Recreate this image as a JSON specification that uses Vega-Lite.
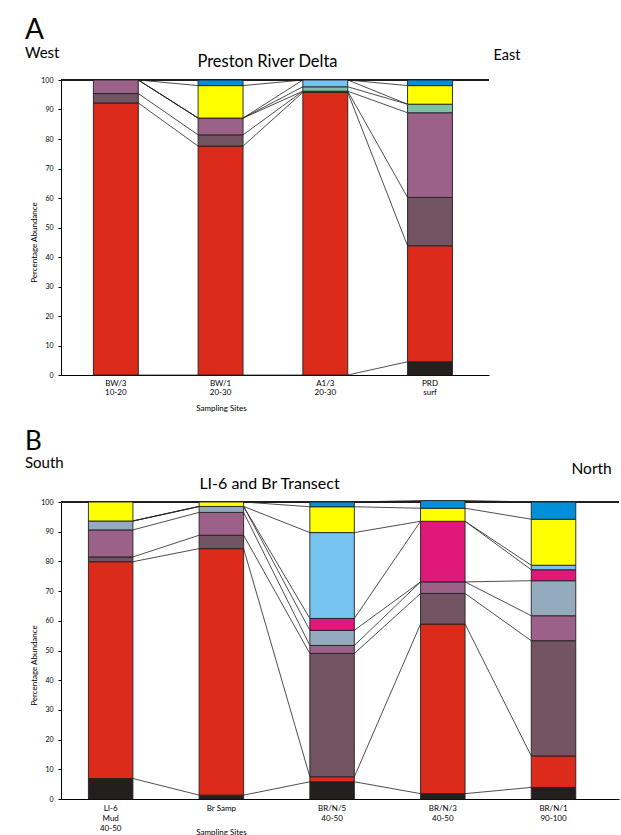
{
"$schema":"https://vega.github.io/schema/vega-lite/v6.json",
"datasets":{
"a":[
{"site":"BW/3|10-20","i":0,"taxon":"black","k":0,"value":0},
{"site":"BW/3|10-20","i":0,"taxon":"red","k":1,"value":92.2},
{"site":"BW/3|10-20","i":0,"taxon":"dark mauve","k":2,"value":3.2},
{"site":"BW/3|10-20","i":0,"taxon":"mauve","k":3,"value":4.6},
{"site":"BW/3|10-20","i":0,"taxon":"green","k":4,"value":0},
{"site":"BW/3|10-20","i":0,"taxon":"light blue","k":7,"value":0},
{"site":"BW/3|10-20","i":0,"taxon":"yellow","k":8,"value":0},
{"site":"BW/3|10-20","i":0,"taxon":"blue","k":9,"value":0},
{"site":"BW/1|20-30","i":1,"taxon":"black","k":0,"value":0},
{"site":"BW/1|20-30","i":1,"taxon":"red","k":1,"value":77.6},
{"site":"BW/1|20-30","i":1,"taxon":"dark mauve","k":2,"value":3.8},
{"site":"BW/1|20-30","i":1,"taxon":"mauve","k":3,"value":5.7},
{"site":"BW/1|20-30","i":1,"taxon":"green","k":4,"value":0},
{"site":"BW/1|20-30","i":1,"taxon":"light blue","k":7,"value":0},
{"site":"BW/1|20-30","i":1,"taxon":"yellow","k":8,"value":11.0},
{"site":"BW/1|20-30","i":1,"taxon":"blue","k":9,"value":1.9},
{"site":"A1/3|20-30","i":2,"taxon":"black","k":0,"value":0},
{"site":"A1/3|20-30","i":2,"taxon":"red","k":1,"value":95.8},
{"site":"A1/3|20-30","i":2,"taxon":"dark mauve","k":2,"value":0.4},
{"site":"A1/3|20-30","i":2,"taxon":"mauve","k":3,"value":0},
{"site":"A1/3|20-30","i":2,"taxon":"green","k":4,"value":1.5},
{"site":"A1/3|20-30","i":2,"taxon":"light blue","k":7,"value":2.3},
{"site":"A1/3|20-30","i":2,"taxon":"yellow","k":8,"value":0},
{"site":"A1/3|20-30","i":2,"taxon":"blue","k":9,"value":0},
{"site":"PRD|surf","i":3,"taxon":"black","k":0,"value":4.5},
{"site":"PRD|surf","i":3,"taxon":"red","k":1,"value":39.3},
{"site":"PRD|surf","i":3,"taxon":"dark mauve","k":2,"value":16.4},
{"site":"PRD|surf","i":3,"taxon":"mauve","k":3,"value":28.7},
{"site":"PRD|surf","i":3,"taxon":"green","k":4,"value":2.9},
{"site":"PRD|surf","i":3,"taxon":"light blue","k":7,"value":0},
{"site":"PRD|surf","i":3,"taxon":"yellow","k":8,"value":6.3},
{"site":"PRD|surf","i":3,"taxon":"blue","k":9,"value":1.9}
],
"b":[
{"site":"LI-6|Mud|40-50","i":0,"taxon":"black","k":0,"value":6.9},
{"site":"LI-6|Mud|40-50","i":0,"taxon":"red","k":1,"value":73.0},
{"site":"LI-6|Mud|40-50","i":0,"taxon":"dark mauve","k":2,"value":1.6},
{"site":"LI-6|Mud|40-50","i":0,"taxon":"mauve","k":3,"value":9.1},
{"site":"LI-6|Mud|40-50","i":0,"taxon":"grey blue","k":5,"value":3.0},
{"site":"LI-6|Mud|40-50","i":0,"taxon":"magenta","k":6,"value":0},
{"site":"LI-6|Mud|40-50","i":0,"taxon":"light blue","k":7,"value":0},
{"site":"LI-6|Mud|40-50","i":0,"taxon":"yellow","k":8,"value":6.4},
{"site":"LI-6|Mud|40-50","i":0,"taxon":"blue","k":9,"value":0},
{"site":"Br Samp","i":1,"taxon":"black","k":0,"value":1.3},
{"site":"Br Samp","i":1,"taxon":"red","k":1,"value":83.0},
{"site":"Br Samp","i":1,"taxon":"dark mauve","k":2,"value":4.5},
{"site":"Br Samp","i":1,"taxon":"mauve","k":3,"value":7.7},
{"site":"Br Samp","i":1,"taxon":"grey blue","k":5,"value":2.0},
{"site":"Br Samp","i":1,"taxon":"magenta","k":6,"value":0},
{"site":"Br Samp","i":1,"taxon":"light blue","k":7,"value":0},
{"site":"Br Samp","i":1,"taxon":"yellow","k":8,"value":1.5},
{"site":"Br Samp","i":1,"taxon":"blue","k":9,"value":0},
{"site":"BR/N/5|40-50","i":2,"taxon":"black","k":0,"value":5.8},
{"site":"BR/N/5|40-50","i":2,"taxon":"red","k":1,"value":1.7},
{"site":"BR/N/5|40-50","i":2,"taxon":"dark mauve","k":2,"value":41.5},
{"site":"BR/N/5|40-50","i":2,"taxon":"mauve","k":3,"value":2.7},
{"site":"BR/N/5|40-50","i":2,"taxon":"grey blue","k":5,"value":5.1},
{"site":"BR/N/5|40-50","i":2,"taxon":"magenta","k":6,"value":4.0},
{"site":"BR/N/5|40-50","i":2,"taxon":"light blue","k":7,"value":28.9},
{"site":"BR/N/5|40-50","i":2,"taxon":"yellow","k":8,"value":8.7},
{"site":"BR/N/5|40-50","i":2,"taxon":"blue","k":9,"value":1.6},
{"site":"BR/N/3|40-50","i":3,"taxon":"black","k":0,"value":1.8},
{"site":"BR/N/3|40-50","i":3,"taxon":"red","k":1,"value":57.1},
{"site":"BR/N/3|40-50","i":3,"taxon":"dark mauve","k":2,"value":10.3},
{"site":"BR/N/3|40-50","i":3,"taxon":"mauve","k":3,"value":3.9},
{"site":"BR/N/3|40-50","i":3,"taxon":"grey blue","k":5,"value":0},
{"site":"BR/N/3|40-50","i":3,"taxon":"magenta","k":6,"value":20.4},
{"site":"BR/N/3|40-50","i":3,"taxon":"light blue","k":7,"value":0},
{"site":"BR/N/3|40-50","i":3,"taxon":"yellow","k":8,"value":4.4},
{"site":"BR/N/3|40-50","i":3,"taxon":"blue","k":9,"value":2.6},
{"site":"BR/N/1|90-100","i":4,"taxon":"black","k":0,"value":3.9},
{"site":"BR/N/1|90-100","i":4,"taxon":"red","k":1,"value":10.6},
{"site":"BR/N/1|90-100","i":4,"taxon":"dark mauve","k":2,"value":38.8},
{"site":"BR/N/1|90-100","i":4,"taxon":"mauve","k":3,"value":8.4},
{"site":"BR/N/1|90-100","i":4,"taxon":"grey blue","k":5,"value":11.8},
{"site":"BR/N/1|90-100","i":4,"taxon":"magenta","k":6,"value":3.7},
{"site":"BR/N/1|90-100","i":4,"taxon":"light blue","k":7,"value":1.5},
{"site":"BR/N/1|90-100","i":4,"taxon":"yellow","k":8,"value":15.5},
{"site":"BR/N/1|90-100","i":4,"taxon":"blue","k":9,"value":5.8}
]
},
"padding":{"left":25,"top":17,"right":0,"bottom":0},
"spacing":16,
"vconcat":[
{
"width":428,"height":295,
"title":{"text":"A","subtitle":"West","anchor":"start","frame":"group","dx":-36,"fontSize":28,"subtitleFontSize":15,"subtitlePadding":1,"offset":-14},
"layer":[
{"data":{"name":"a"},"mark":{"type":"rule","color":"#231f20","strokeWidth":1},
"encoding":{"y":{"datum":100,"type":"quantitative","scale":{"domain":[0,100],"nice":false},"axis":null}}},
{"data":{"name":"a"},
"transform":[
{"stack":"value","groupby":["site"],"sort":[{"field":"k","order":"ascending"}],"as":["y0","y1"]},
{"window":[{"op":"lead","field":"y1","as":"ny1"},{"op":"lead","field":"site","as":"nsite"}],"groupby":["taxon"],"sort":[{"field":"i","order":"ascending"}]},
{"filter":"isValid(datum.nsite)"}
],
"mark":{"type":"rule","color":"#231f20","strokeWidth":0.8},
"encoding":{
"x":{"field":"site","type":"nominal","bandPosition":1,"scale":{"type":"band","domain":["BW/3|10-20","BW/1|20-30","A1/3|20-30","PRD|surf"],"paddingInner":0.571,"paddingOuter":0.329,"align":0.47},"axis":null},
"x2":{"field":"nsite","bandPosition":0},
"y":{"field":"y1","type":"quantitative","scale":{"domain":[0,100],"nice":false},"axis":null},
"y2":{"field":"ny1"}}},
{"data":{"name":"a"},"transform":[{"filter":"datum.value > 0"}],
"mark":{"type":"bar","stroke":"#231f20","strokeWidth":0.9},
"encoding":{
"x":{"field":"site","type":"nominal","scale":{"type":"band","domain":["BW/3|10-20","BW/1|20-30","A1/3|20-30","PRD|surf"],"paddingInner":0.571,"paddingOuter":0.329,"align":0.47},
"axis":{"orient":"bottom","labelExpr":"split(datum.label, '|')","labelAngle":0,"labelFontSize":8,"labelLineHeight":9,"labelPadding":4,"ticks":false,"domainWidth":1,"title":"Sampling Sites","titleFontSize":8,"titleX":160,"titleY":33,"titleAlign":"center","titleBaseline":"middle","titleAnchor":null}},
"y":{"field":"value","type":"quantitative","stack":"zero","scale":{"domain":[0,100],"nice":false},
"axis":{"orient":"left","values":[0,10,20,30,40,50,60,70,80,90,100],"labelFontSize":7,"tickSize":3,"labelPadding":5,"domainWidth":1,"title":"Percentage Abundance","titleFontSize":8,"titleX":-27,"titleY":162,"titleAlign":"center","titleBaseline":"middle","titleAnchor":null}},
"color":{"field":"taxon","type":"nominal","scale":{"domain":["black","red","dark mauve","mauve","green","grey blue","magenta","light blue","yellow","blue"],"range":["#231f1e","#dc2b1a","#725462","#9c6189","#7ac3a3","#93abbd","#e0187a","#76c3f0","#ffff00","#0090da"]},"legend":null},
"order":{"field":"k","type":"quantitative"}}},
{"data":{"name":"a"},"mark":{"type":"point","opacity":0},
"encoding":{
"x":{"field":"site","type":"nominal","scale":{"type":"band","domain":["BW/3|10-20","BW/1|20-30","A1/3|20-30","PRD|surf"],"paddingInner":0.571,"paddingOuter":0.329,"align":0.47},
"axis":{"orient":"top","labels":false,"ticks":false,"domain":false,"title":"Preston River Delta","titleFontSize":16.5,"titleX":206,"titleY":-19,"titleAlign":"center","titleBaseline":"middle","titleAnchor":null}},
"y":{"field":"value","type":"quantitative","scale":{"domain":[0,100],"nice":false},
"axis":{"orient":"right","labels":false,"ticks":false,"domain":false,"title":"East","titleFontSize":14.5,"titleAngle":0,"titleX":4,"titleY":-25,"titleAlign":"left","titleBaseline":"middle","titleAnchor":null}}}}
],
"resolve":{"axis":{"x":"independent","y":"independent"}}
},
{
"width":558,"height":297,
"title":{"text":"B","subtitle":"South","anchor":"start","frame":"group","dx":-36,"fontSize":26,"subtitleFontSize":15,"subtitlePadding":1,"offset":-9.5},
"layer":[
{"data":{"name":"b"},"mark":{"type":"rule","color":"#231f20","strokeWidth":1},
"encoding":{"y":{"datum":100,"type":"quantitative","scale":{"domain":[0,100],"nice":false},"axis":null}}},
{"data":{"name":"b"},
"transform":[
{"stack":"value","groupby":["site"],"sort":[{"field":"k","order":"ascending"}],"as":["y0","y1"]},
{"window":[{"op":"lead","field":"y1","as":"ny1"},{"op":"lead","field":"site","as":"nsite"}],"groupby":["taxon"],"sort":[{"field":"i","order":"ascending"}]},
{"filter":"isValid(datum.nsite)"}
],
"mark":{"type":"rule","color":"#231f20","strokeWidth":0.8},
"encoding":{
"x":{"field":"site","type":"nominal","bandPosition":1,"scale":{"type":"band","domain":["LI-6|Mud|40-50","Br Samp","BR/N/5|40-50","BR/N/3|40-50","BR/N/1|90-100"],"paddingInner":0.598,"paddingOuter":0.319,"align":0.388},"axis":null},
"x2":{"field":"nsite","bandPosition":0},
"y":{"field":"y1","type":"quantitative","scale":{"domain":[0,100],"nice":false},"axis":null},
"y2":{"field":"ny1"}}},
{"data":{"name":"b"},"transform":[{"filter":"datum.value > 0"}],
"mark":{"type":"bar","stroke":"#231f20","strokeWidth":0.9},
"encoding":{
"x":{"field":"site","type":"nominal","scale":{"type":"band","domain":["LI-6|Mud|40-50","Br Samp","BR/N/5|40-50","BR/N/3|40-50","BR/N/1|90-100"],"paddingInner":0.598,"paddingOuter":0.319,"align":0.388},
"axis":{"orient":"bottom","labelExpr":"split(datum.label, '|')","labelAngle":0,"labelFontSize":8,"labelLineHeight":10,"labelPadding":5,"ticks":false,"domainWidth":1,"title":"Sampling Sites","titleFontSize":8,"titleX":160,"titleY":33,"titleAlign":"center","titleBaseline":"middle","titleAnchor":null}},
"y":{"field":"value","type":"quantitative","stack":"zero","scale":{"domain":[0,100],"nice":false},
"axis":{"orient":"left","values":[0,10,20,30,40,50,60,70,80,90,100],"labelFontSize":7,"tickSize":3,"labelPadding":5,"domainWidth":1,"title":"Percentage Abundance","titleFontSize":8,"titleX":-27,"titleY":163,"titleAlign":"center","titleBaseline":"middle","titleAnchor":null}},
"color":{"field":"taxon","type":"nominal","scale":{"domain":["black","red","dark mauve","mauve","green","grey blue","magenta","light blue","yellow","blue"],"range":["#231f1e","#dc2b1a","#725462","#9c6189","#7ac3a3","#93abbd","#e0187a","#76c3f0","#ffff00","#0090da"]},"legend":null},
"order":{"field":"k","type":"quantitative"}}},
{"data":{"name":"b"},"mark":{"type":"point","opacity":0},
"encoding":{
"x":{"field":"site","type":"nominal","scale":{"type":"band","domain":["LI-6|Mud|40-50","Br Samp","BR/N/5|40-50","BR/N/3|40-50","BR/N/1|90-100"],"paddingInner":0.598,"paddingOuter":0.319,"align":0.388},
"axis":{"orient":"top","labels":false,"ticks":false,"domain":false,"title":"LI-6 and Br Transect","titleFontSize":16,"titleX":208,"titleY":-19,"titleAlign":"center","titleBaseline":"middle","titleAnchor":null}},
"y":{"field":"value","type":"quantitative","scale":{"domain":[0,100],"nice":false},
"axis":{"orient":"right","labels":false,"ticks":false,"domain":false,"title":"North","titleFontSize":15.5,"titleAngle":0,"titleX":-48,"titleY":-34,"titleAlign":"left","titleBaseline":"middle","titleAnchor":null}}}}
],
"resolve":{"axis":{"x":"independent","y":"independent"}}
}
],
"config":{
"font":"Lato",
"background":"#ffffff",
"view":{"stroke":null},
"axis":{"labelFont":"Lato","titleFont":"Lato","labelColor":"#000000","titleColor":"#000000","domainColor":"#000000","tickColor":"#000000","grid":false,"titleFontWeight":"normal"},
"title":{"font":"Lato","subtitleFont":"Lato","fontWeight":"normal","color":"#000000","subtitleColor":"#000000"}
}
}
